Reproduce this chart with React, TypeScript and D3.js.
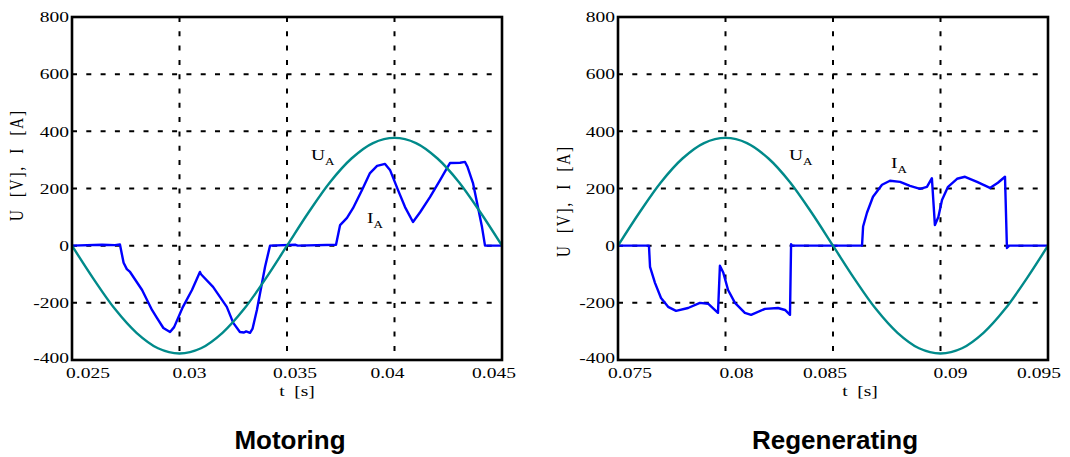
import React from "react";
import * as d3 from "d3";

// ---------- data ----------
const yTicks = [-400, -200, 0, 200, 400, 600, 800];

const motorXTicks = [0.025, 0.03, 0.035, 0.04, 0.045];
const motorXLabels = ["0.025", "0.03", "0.035", "0.04", "0.045"];
const regenXTicks = [0.075, 0.08, 0.085, 0.09, 0.095];
const regenXLabels = ["0.075", "0.08", "0.085", "0.09", "0.095"];

// Voltage U_A (read every 1 ms)
const motorUt = [0.025, 0.026, 0.027, 0.028, 0.029, 0.030, 0.031, 0.032, 0.033, 0.034, 0.035,
  0.036, 0.037, 0.038, 0.039, 0.040, 0.041, 0.042, 0.043, 0.044, 0.045];
const motorU = [0, -116, -222, -305, -359, -377, -359, -305, -222, -116, 0,
  116, 222, 305, 359, 377, 359, 305, 222, 116, 0];

const regenUt = [0.075, 0.076, 0.077, 0.078, 0.079, 0.080, 0.081, 0.082, 0.083, 0.084, 0.085,
  0.086, 0.087, 0.088, 0.089, 0.090, 0.091, 0.092, 0.093, 0.094, 0.095];
const regenU = [0, 116, 222, 305, 359, 377, 359, 305, 222, 116, 0,
  -116, -222, -305, -359, -377, -359, -305, -222, -116, 0];

// Current I_A
const motorIt = [0.025, 0.0264, 0.027, 0.02723, 0.0274, 0.02755, 0.0277, 0.02826, 0.02872, 0.02895,
  0.02925, 0.02956, 0.02975, 0.03016, 0.03058, 0.03095, 0.031, 0.03156, 0.0322, 0.0325,
  0.03281, 0.033, 0.0331, 0.03328, 0.0334, 0.0336, 0.03398, 0.03421, 0.0354, 0.0355,
  0.03728, 0.03747, 0.03779, 0.03807, 0.03849, 0.03886, 0.03919, 0.03956, 0.03979, 0.04016,
  0.04049, 0.04086, 0.04119, 0.04165, 0.04212, 0.04244, 0.04258, 0.04305, 0.04328, 0.0434,
  0.04365, 0.04388, 0.04407, 0.04421, 0.045];
const motorI = [0, 3, 2, 4, -60, -82, -92, -155, -225, -253,
  -288, -302, -285, -214, -155, -92, -100, -144, -214, -270,
  -302, -304, -300, -305, -290, -225, -74, 0, 3, 0,
  3, 72, 97, 131, 195, 254, 279, 286, 265, 195,
  135, 83, 117, 170, 229, 271, 289, 290, 293, 275,
  219, 135, 65, 0, 0];

const regenIt = [0.075, 0.07644, 0.07649, 0.07672, 0.077, 0.07733, 0.0777, 0.07826, 0.07881, 0.07919,
  0.07965, 0.07974, 0.0799, 0.08012, 0.08044, 0.0809, 0.08119, 0.08184, 0.08244, 0.08277,
  0.083, 0.08305, 0.0831, 0.08635, 0.0864, 0.08658, 0.08686, 0.08728, 0.08765, 0.08812,
  0.08858, 0.08905, 0.08937, 0.0896, 0.08974, 0.0899, 0.09007, 0.09035, 0.09077, 0.09114,
  0.0917, 0.0923, 0.09267, 0.093, 0.09309, 0.0932, 0.095];
const regenI = [0, 0, -74, -130, -183, -214, -228, -218, -200, -203,
  -235, -70, -95, -155, -200, -235, -242, -221, -218, -225,
  -242, 5, 0, 0, 67, 115, 171, 213, 227, 223,
  209, 199, 206, 236, 72, 100, 160, 206, 234, 241,
  223, 202, 220, 241, -8, 0, 0];

// ---------- layout ----------
const W = 1070;
const H = 457;
const TOP = 17;
const BOTTOM = 360;
const SERIF = "'Liberation Serif', 'Times New Roman', serif";
const SANS = "'Liberation Sans', Arial, sans-serif";
const TEAL = "#008a8a";
const BLUE = "#0000ff";
const SX = 1.3; // horizontal stretch of the serif labels
const motorLabelShift = [16, 10, 8, -7, -8];
const regenLabelShift = [12, 11, -8, 10, -9];

type PanelProps = {
  left: number;
  right: number;
  xTicks: number[];
  xLabels: string[];
  labelShift: number[];
  uT: number[];
  u: number[];
  iT: number[];
  iV: number[];
  title: string;
  titleX: number;
  yLabelX: number;
  yLabelY: number;
  xLabelX: number;
  uaPos: [number, number];
  iaPos: [number, number];
};

function Label(props: { x: number; y: number; anchor?: string; dy?: string; children: React.ReactNode }) {
  return (
    <text transform={`translate(${props.x},${props.y}) scale(${SX},1)`} textAnchor={props.anchor || "start"}
      dy={props.dy} fontFamily={SERIF} fontSize={15} fill="#000" style={{ whiteSpace: "pre" }}>
      {props.children}
    </text>
  );
}

function Panel(p: PanelProps) {
  const x = d3.scaleLinear().domain([p.xTicks[0], p.xTicks[p.xTicks.length - 1]]).range([p.left, p.right]);
  const y = d3.scaleLinear().domain([-400, 800]).range([BOTTOM, TOP]);
  const line = d3
    .line<[number, number]>()
    .x((d) => x(d[0]))
    .y((d) => y(d[1]));
  const smooth = d3
    .line<[number, number]>()
    .x((d) => x(d[0]))
    .y((d) => y(d[1]))
    .curve(d3.curveCatmullRom.alpha(0.5));
  const uPts = p.uT.map((t, i) => [t, p.u[i]] as [number, number]);
  const iPts = p.iT.map((t, i) => [t, p.iV[i]] as [number, number]);
  const innerX = p.xTicks.slice(1, -1);
  const innerY = yTicks.slice(1, -1);
  return (
    <g>
      {innerY.map((v) => (
        <line key={"gy" + v} x1={p.left} x2={p.right} y1={y(v)} y2={y(v)}
          stroke="#000" strokeWidth={2} strokeDasharray="5 9.3" />
      ))}
      {innerX.map((v) => (
        <line key={"gx" + v} x1={x(v)} x2={x(v)} y1={TOP} y2={BOTTOM}
          stroke="#000" strokeWidth={2} strokeDasharray="5 9.3" />
      ))}
      <path d={line(iPts) || ""} fill="none" stroke={BLUE} strokeWidth={2.4} strokeLinejoin="round" />
      <path d={smooth(uPts) || ""} fill="none" stroke={TEAL} strokeWidth={2.4} />
      <rect x={p.left} y={TOP} width={p.right - p.left} height={BOTTOM - TOP}
        fill="none" stroke="#000" strokeWidth={2.6} />
      {yTicks.map((v) => (
        <Label key={"ty" + v} x={p.left - 3} y={y(v) - (v === -400 ? 2 : 0)} dy="0.35em" anchor="end">{String(v)}</Label>
      ))}
      {p.xTicks.map((v, i) => (
        <Label key={"tx" + v} x={x(v) + p.labelShift[i]} y={378} anchor="middle">{p.xLabels[i]}</Label>
      ))}
      <Label x={p.xLabelX} y={396} anchor="middle">{"t  [s]"}</Label>
      <text transform={`translate(${p.yLabelX},${p.yLabelY}) scale(${SX},1) rotate(-90)`} textAnchor="middle"
        fontFamily={SERIF} fontSize={15} fill="#000" style={{ whiteSpace: "pre" }}
        textLength={110} lengthAdjust="spacing">
        {"U  [V],  I  [A]"}
      </text>
      <Label x={p.uaPos[0]} y={p.uaPos[1]}>
        U<tspan fontSize={10} dy={5}>A</tspan>
      </Label>
      <Label x={p.iaPos[0]} y={p.iaPos[1]}>
        I<tspan fontSize={10} dy={5}>A</tspan>
      </Label>
      <text x={p.titleX} y={449} textAnchor="middle" fontFamily={SANS} fontWeight="bold"
        fontSize={26} fill="#000">{p.title}</text>
    </g>
  );
}

export default function App() {
  return (
    <svg width={W} height={H} style={{ position: "absolute", left: 0, top: 0, background: "#fff" }}>
      <rect x={0} y={0} width={W} height={H} fill="#fff" />
      <Panel left={72} right={502} xTicks={motorXTicks} xLabels={motorXLabels} labelShift={motorLabelShift}
        uT={motorUt} u={motorU} iT={motorIt} iV={motorI}
        title="Motoring" titleX={290} yLabelX={23} yLabelY={166} xLabelX={297}
        uaPos={[311, 160]} iaPos={[367, 223]} />
      <Panel left={618} right={1048} xTicks={regenXTicks} xLabels={regenXLabels} labelShift={regenLabelShift}
        uT={regenUt} u={regenU} iT={regenIt} iV={regenI}
        title="Regenerating" titleX={835} yLabelX={570} yLabelY={202} xLabelX={860}
        uaPos={[789, 160]} iaPos={[891, 168]} />
    </svg>
  );
}
